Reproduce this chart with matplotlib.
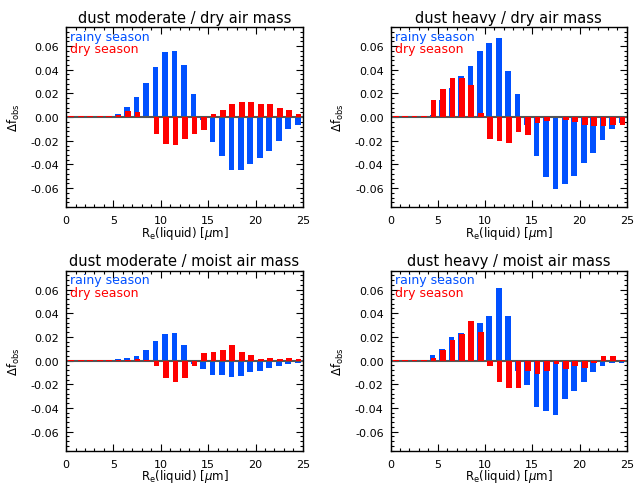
import numpy as np
import matplotlib
matplotlib.use("Agg")
import matplotlib.pyplot as plt
from matplotlib.ticker import MultipleLocator

# bin centres of effective radius [micron]
r_eff = np.arange(0.5, 25, 1.0)

titles = ["dust moderate / dry air mass", "dust heavy / dry air mass",
          "dust moderate / moist air mass", "dust heavy / moist air mass"]

# rainy season
rainy_mod_dry = [0, 0, 0, 0, 0, 0.003, 0.0088, 0.0173, 0.0292, 0.042, 0.0547, 0.0555, 0.0436,
                 0.0198, -0.0025, -0.021, -0.0326, -0.0445, -0.0445, -0.040, -0.0343, -0.0284,
                 -0.0199, -0.0102, -0.0068]
rainy_hvy_dry = [0, 0, 0, 0, 0.002, 0.0147, 0.025, 0.0348, 0.0433, 0.0561, 0.0623, 0.0671, 0.0391,
                 0.0195, -0.007, -0.0329, -0.0507, -0.0609, -0.0567, -0.0499, -0.0388, -0.0303,
                 -0.019, -0.0099, -0.0048]
rainy_mod_moist = [0, 0, 0, 0, 0, 0.0014, 0.0022, 0.0039, 0.0092, 0.0168, 0.0226, 0.0235, 0.0131,
                   -0.0028, -0.0075, -0.0126, -0.0126, -0.0142, -0.0134, -0.010, -0.0092, -0.0067,
                   -0.0042, -0.0025, -0.0017]
rainy_hvy_moist = [0, 0, 0, 0, 0.005, 0.0098, 0.0198, 0.0235, 0.030, 0.0318, 0.0374, 0.0609, 0.0374,
                   -0.0092, -0.021, -0.0394, -0.0427, -0.0461, -0.0327, -0.026, -0.0184, -0.010,
                   -0.0042, -0.0017, -0.0017]

# dry season
dry_mod_dry = [0.0006, 0.0006, 0.0006, 0.0006, 0.001, 0.0017, 0.0048, 0.004, 0.0005, -0.0139,
               -0.0224, -0.0233, -0.0182, -0.0142, -0.0105, 0.0023, 0.0062, 0.0113, 0.013, 0.0127,
               0.0113, 0.0113, 0.008, 0.0062, 0.0028]
dry_hvy_dry = [0.0006, 0.0006, 0.0006, 0.0006, 0.0144, 0.0238, 0.0331, 0.0331, 0.0272, 0.0034,
               -0.0184, -0.0201, -0.0221, -0.0125, -0.015, -0.0051, -0.0031, 0.0005, -0.0023,
               -0.004, -0.0065, -0.0071, -0.0074, -0.0065, -0.0065]
dry_mod_moist = [0.0006, 0.0006, 0.0006, 0.0006, 0.0006, 0.0006, 0.0006, 0.0017, 0.0003, -0.0042,
                 -0.0151, -0.0184, -0.0151, -0.0042, 0.0064, 0.0073, 0.0089, 0.0131, 0.0073,
                 0.0047, 0.0017, 0.0022, 0.0017, 0.0022, 0.0017]
dry_hvy_moist = [0.0006, 0.0006, 0.0006, 0.0006, 0.0022, 0.0089, 0.0173, 0.0223, 0.0332, 0.024,
                 -0.0042, -0.0184, -0.0235, -0.0229, -0.0092, -0.0117, -0.0092, -0.0028, -0.0075,
                 -0.0042, -0.0067, -0.0017, 0.0039, 0.0039, 0.0003]

rainy = [rainy_mod_dry, rainy_hvy_dry, rainy_mod_moist, rainy_hvy_moist]
dry = [dry_mod_dry, dry_hvy_dry, dry_mod_moist, dry_hvy_moist]

BLUE = "#0050ff"
RED = "#ff0000"

plt.rcParams["font.family"] = "DejaVu Sans"
plt.rcParams["mathtext.fontset"] = "dejavusans"

fig = plt.figure(figsize=(6.35, 4.85), dpi=100)

# axes boxes in figure fractions [left, bottom, width, height]
boxes = [[0.104, 0.571, 0.373, 0.371], [0.615, 0.571, 0.372, 0.371],
         [0.104, 0.069, 0.373, 0.371], [0.615, 0.069, 0.372, 0.371]]

for i in range(4):
    ax = fig.add_axes(boxes[i])
    ax.bar(r_eff - 0.05, rainy[i], width=0.6, color=BLUE, zorder=2)
    ax.axhline(0, color="#555555", lw=1.5, zorder=2.5)
    ax.bar(r_eff + 0.05, dry[i], width=0.6, color=RED, zorder=3)

    ax.set_xlim(0, 25)
    ax.set_ylim(-0.076, 0.076)
    ax.xaxis.set_major_locator(MultipleLocator(5))
    ax.xaxis.set_minor_locator(MultipleLocator(1))
    ax.yaxis.set_major_locator(MultipleLocator(0.02))
    ax.yaxis.set_minor_locator(MultipleLocator(0.004))
    ax.yaxis.set_major_formatter(plt.FormatStrFormatter("%.2f"))
    ax.tick_params(which="both", direction="in", top=True, right=True, labelsize=8)
    ax.tick_params(which="major", length=5, width=0.8)
    ax.tick_params(axis="x", which="major", pad=6)
    ax.tick_params(axis="y", which="major", pad=5)
    ax.tick_params(which="minor", length=2.5, width=0.8)
    for s in ax.spines.values():
        s.set_linewidth(1.0)

    ax.set_title(titles[i], fontsize=10.5, pad=4)
    ax.set_xlabel(r"R$_{\rm e}$(liquid) [$\mu$m]", fontsize=8.5, labelpad=-1)
    ax.set_ylabel(r"$\Delta$f$_{\rm obs}$", fontsize=8.5, labelpad=6)

    ax.text(0.017, 0.948, "rainy season", color=BLUE, fontsize=9,
            transform=ax.transAxes, va="center", ha="left", zorder=5)
    ax.text(0.017, 0.879, "dry season", color=RED, fontsize=9,
            transform=ax.transAxes, va="center", ha="left", zorder=5)

fig.savefig("out.png", dpi=100)
